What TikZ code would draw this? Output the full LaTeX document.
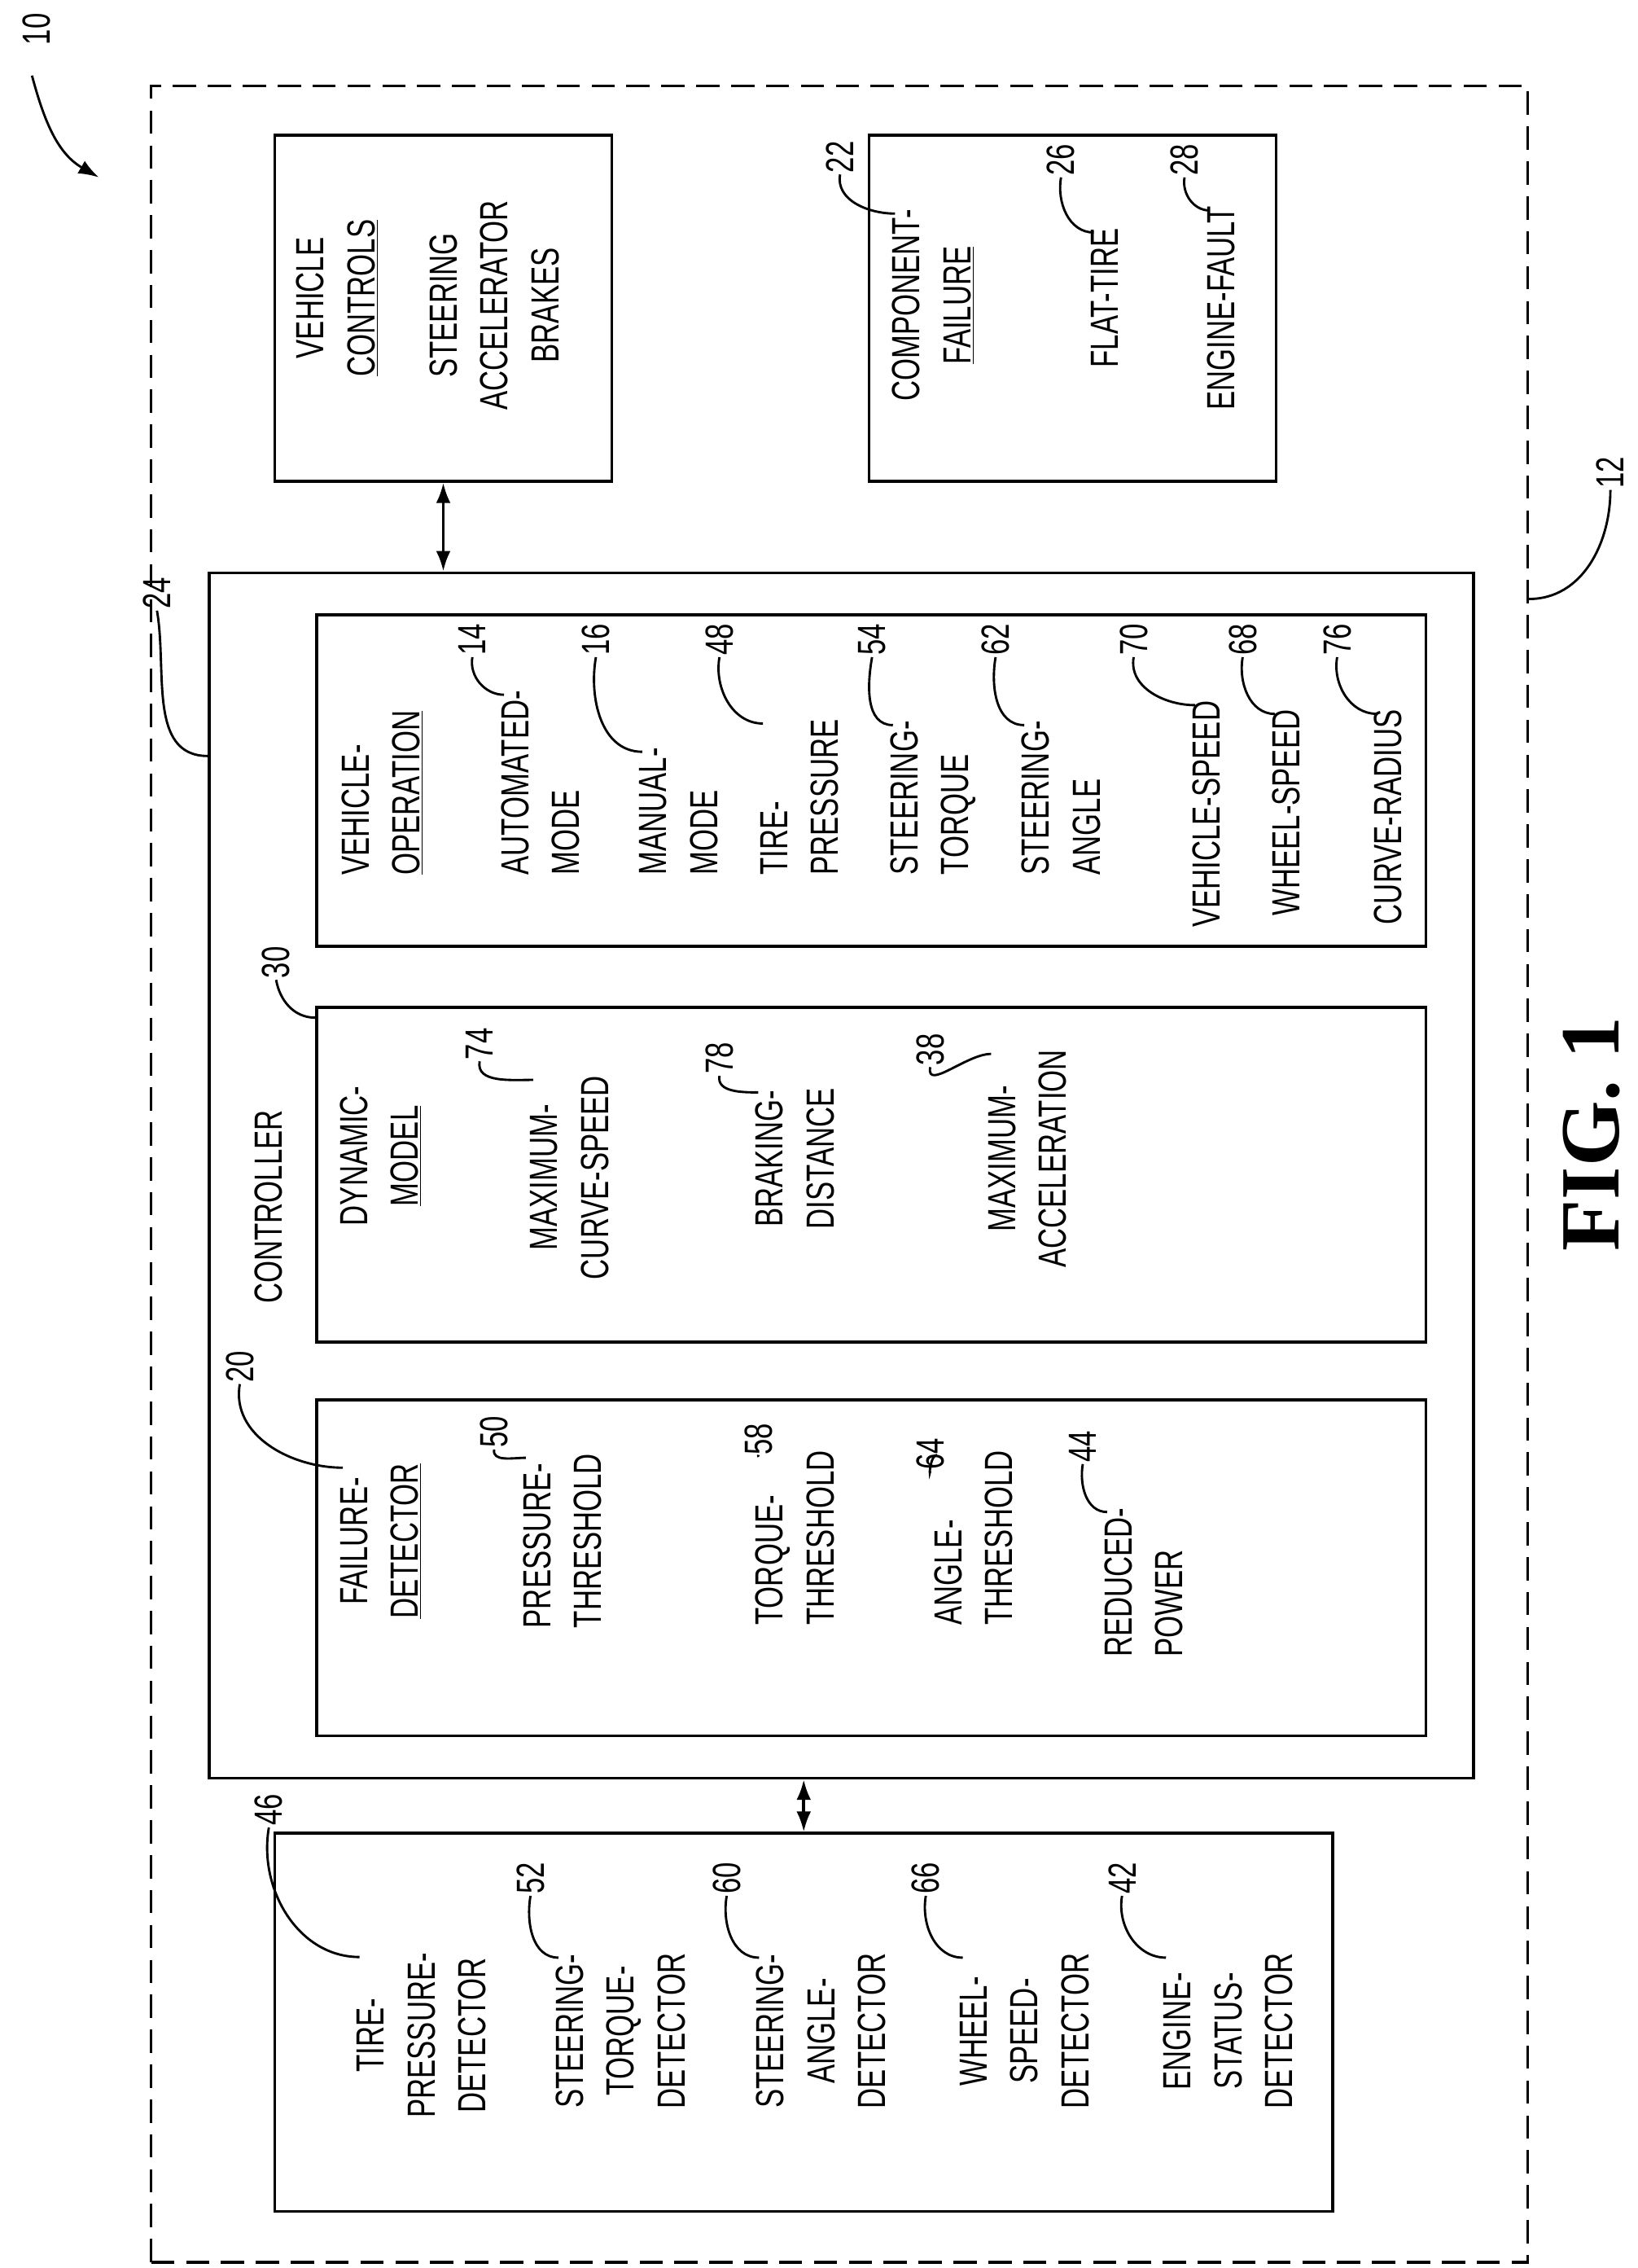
\documentclass[tikz,border=0pt]{standalone}
\usepackage{fontspec}
\setmainfont{Liberation Sans}[FakeStretch=0.72]
\newfontfamily\figfont{Liberation Serif}
\usetikzlibrary{arrows.meta,positioning}

\begin{document}
\begin{tikzpicture}[
  x=1pt,y=-1pt,
  >={Latex[length=14pt,width=10pt]},
  box/.style={draw,line width=2pt,anchor=north west,inner sep=0pt},
  txt/.style={rotate=90,align=center,inner sep=0pt,font=\fontsize{27}{35}\selectfont},
  txl/.style={txt,align=left,anchor=west},
  num/.style={rotate=90,inner sep=1pt,font=\fontsize{27}{30}\selectfont},
  lead/.style={line width=1.6pt},
  ]
  \useasboundingbox (0,0) rectangle (1127,1560);
  % outer frame
  \node[box,dash pattern=on 16pt off 8pt,minimum width=947pt,minimum height=1497pt] (sys) at (103,58) {};
  \node[box,minimum width=232pt,minimum height=238pt] (vc) at (188,92) {};
  \node[box,minimum width=280pt,minimum height=238pt] (cf) at (597,92) {};
  \node[box,minimum width=870pt,minimum height=829pt] (ctrl) at (143,393) {};
  \node[box,minimum width=763pt,minimum height=228pt] (vo) at (217,422) {};
  \node[box,minimum width=763pt,minimum height=230pt] (dm) at (217,692) {};
  \node[box,minimum width=763pt,minimum height=231pt] (fd) at (217,962) {};
  \node[box,minimum width=728pt,minimum height=260pt] (det) at (188,1260) {};

  \draw[<->,line width=2pt] (vc.south) -- (vc.south |- ctrl.north);
  \draw[<->,line width=2pt] (ctrl.south -| det.north) -- (det.north);

  % vehicle controls
  \node[txt] (tvc) at (232,205) {VEHICLE\\\underline{CONTROLS}};
  \node[txt] (tvcs) at (340,210) {STEERING\\ACCELERATOR\\BRAKES};
  % component failure
  \node[txt] (t22) at (642,210) {COMPONENT-\\\underline{FAILURE}};
  \node[txt] (t26) at (760,205) {FLAT-TIRE};
  \node[txt] (t28) at (840,212) {ENGINE-FAULT};
  % vehicle operation
  \node[txl] (tvo) at (263,602) {VEHICLE-\\\underline{OPERATION}};
  \node[txl] (t14) at (372,602) {AUTOMATED-\\MODE};
  \node[txl] (t16) at (467,602) {MANUAL-\\MODE};
  \node[txl] (t48) at (550,602) {TIRE-\\PRESSURE};
  \node[txl] (t54) at (642,602) {STEERING-\\TORQUE};
  \node[txl] (t62) at (730,602) {STEERING-\\ANGLE};
  \node[txl] (t70) at (830,638) {VEHICLE-SPEED};
  \node[txl] (t68) at (885,630) {WHEEL-SPEED};
  \node[txl] (t76) at (955,636) {CURVE-RADIUS};
  % dynamic model
  \node[txt] (tctrl) at (185,830) {CONTROLLER};
  \node[txt] (tdm) at (262,795) {DYNAMIC-\\\underline{MODEL}};
  \node[txt] (t74) at (392,810) {MAXIMUM-\\CURVE-SPEED};
  \node[txt] (t78) at (547,797) {BRAKING-\\DISTANCE};
  \node[txt] (t38) at (707,797) {MAXIMUM-\\ACCELERATION};
  % failure detector
  \node[txt] (t20) at (262,1060) {FAILURE-\\\underline{DETECTOR}};
  \node[txl] (t50) at (387,1120) {PRESSURE-\\THRESHOLD};
  \node[txl] (t58) at (547,1118) {TORQUE-\\THRESHOLD};
  \node[txl] (t64) at (670,1118) {ANGLE-\\THRESHOLD};
  \node[txl] (t44) at (787,1140) {REDUCED-\\POWER};
  % detectors
  \node[txt] (t46) at (290,1400) {TIRE-\\PRESSURE-\\DETECTOR};
  \node[txt] (t52) at (427,1397) {STEERING-\\TORQUE-\\DETECTOR};
  \node[txt] (t60) at (565,1397) {STEERING-\\ANGLE-\\DETECTOR};
  \node[txt] (t66) at (705,1397) {WHEEL-\\SPEED-\\DETECTOR};
  \node[txt] (t42) at (845,1397) {ENGINE-\\STATUS-\\DETECTOR};

  % reference numerals
  \node[num] (n10) at (25,20) {10};
  \coordinate (s10) at (22,52);
  \coordinate (a10) at (68,122);
  \draw[->,lead] (s10) to[out=-75,in=150] (a10);
  \node[num] (n12) at (1108,325) {12};
  \draw[lead] (n12.west) to[out=-90,in=0] (sys.east |- 0,412);
  \node[num] (n24) at (108,408) {24};
  \draw[lead] (n24.west) to[out=-80,in=180] (ctrl.west |- 0,520);
  \node[num] (n30) at (190,662) {30};
  \draw[lead] (n30.west) to[out=-80,in=180] (dm.west |- 0,700);
  \foreach \n/\x/\y in {22/578/108,26/730/110,28/815/110,
      14/325/440,16/410/440,48/495/440,54/600/440,62/685/440,70/780/440,68/855/440,76/920/440,
      74/330/718,78/495/728,38/640/722,
      20/165/940,50/340/985,58/522/990,64/640/1000,44/745/995,
      46/185/1245,52/365/1292,60/500/1292,66/637/1292,42/772/1292}
    {\node[num] (n\n) at (\x,\y) {\n};
     \draw[lead] (n\n.west) to[out=-100,in=180] ([xshift=2pt,yshift=-3pt]t\n.north east);}

  \node[rotate=90,font=\figfont\bfseries\fontsize{58}{60}\selectfont] (fig) at (1095,780) {FIG. 1};
\end{tikzpicture}
\end{document}
